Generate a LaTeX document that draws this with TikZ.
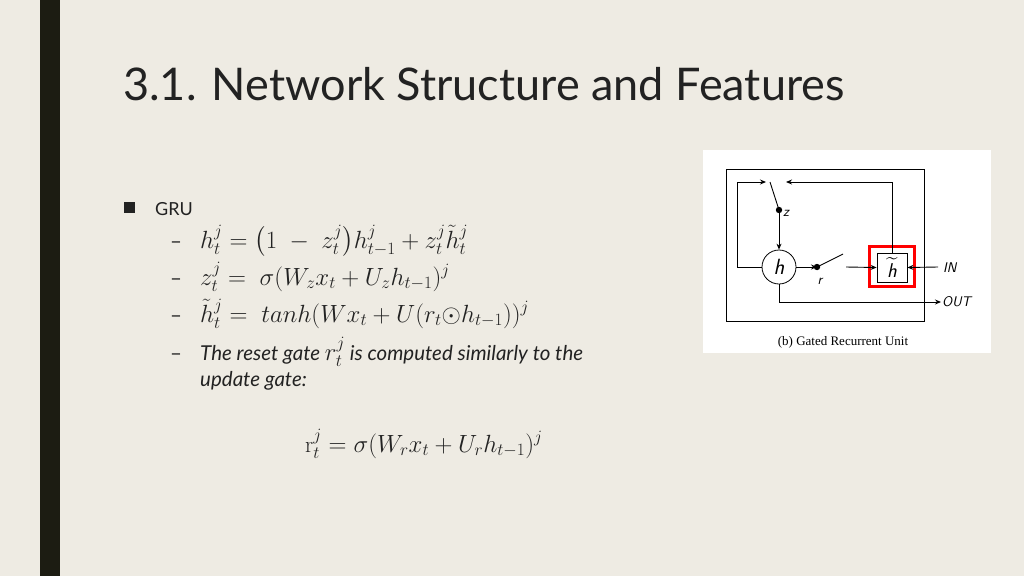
\documentclass[tikz,border=0pt]{standalone}
\usepackage{amsmath}
\usepackage{fontspec}
\setmainfont{Lato}
\newfontfamily\capfont{Liberation Serif}
\newfontfamily\lmr{Latin Modern Roman}
\usetikzlibrary{arrows.meta}
\definecolor{bg}{HTML}{EEEBE3}
\definecolor{bar}{HTML}{1C1C12}
\definecolor{txt}{HTML}{222222}
\begin{document}
\begin{tikzpicture}[x=1pt,y=-1pt,
  wire/.style={line width=0.9pt,black},
  arr/.style={wire,-{Stealth[length=6pt,width=5pt]}},
  eq/.style={anchor=base west,inner sep=0pt,font=\fontsize{23}{25}\selectfont,text=txt},
  tx/.style={anchor=base west,inner sep=0pt,font=\fontsize{20.5}{22}\selectfont,text=txt},
  lbl/.style={inner sep=0pt,font=\fontsize{14}{16}\selectfont\sffamily\itshape}]
\useasboundingbox (0,0) rectangle (1024,576);
\fill[bg] (0,0) rectangle (1024,576);
\fill[bar] (40,0) rectangle (60,576);
\node[anchor=base west,inner sep=0pt,font=\fontsize{45}{50}\selectfont,text=txt] (title) at (123,100) {3.1. Network Structure and Features};
\fill[txt] (124,202) rectangle (135,213);
\node[tx,font=\fontsize{18}{20}\selectfont] (gru) at (155,215) {GRU};
\foreach \yy/\nm in {248/d1,285/d2,322/d3,360/d4}{\node[tx] (\nm) at (170,\yy) {--};}
\node[eq] (e1) at (200,248) {$h_t^j=\bigl(1\;-\;z_t^j\bigr)h_{t-1}^j+z_t^j\tilde h_t^j$};
\node[eq] (e2) at (200,285) {$z_t^j=\;\sigma(W_zx_t+U_zh_{t-1})^j$};
\node[eq] (e3) at (200,322) {$\tilde h_t^j=\;tanh(Wx_t+U(r_t{\odot}h_{t-1}))^j$};
\node[tx,font=\fontsize{20.5}{22}\selectfont\itshape] (e4) at (200,360) {The reset gate {\fontsize{23}{24}\selectfont$r_t^j$} is computed similarly to the};
\node[tx,font=\fontsize{20.5}{22}\selectfont\itshape] (e5) at (200,386) {update gate:};
\node[eq] (e6) at (305,452) {$\text{\lmr r}_t^j=\sigma(W_rx_t+U_rh_{t-1})^j$};
% figure
\fill[white] (703,150) rectangle (991,353);
\draw[line width=0.8pt] (726,169) rectangle (924,321);
\node[circle,draw,line width=0.8pt,minimum size=34pt,inner sep=0pt,font=\fontsize{22}{24}\selectfont\sffamily\itshape] (h) at (779,267) {h};
\node[draw=red,line width=3pt,minimum width=45pt,minimum height=40pt,inner sep=0pt] (red) at (892,266.5) {};
\node[draw,fill=white,line width=0.8pt,minimum width=30pt,minimum height=29pt,inner sep=0pt,font=\fontsize{20}{22}\selectfont\sffamily\itshape] (ht) at (892,267.5) {$\widetilde{\text{\sffamily\itshape h}}$};
\fill (779,210) circle (3.2pt) coordinate (zd);
\fill (817,267) circle (3.2pt) coordinate (rd);
\node[lbl,anchor=west] (zl) at (783,213) {z};
\node[lbl] (rl) at (820,281) {r};
\coordinate (tl) at (737,182);
\coordinate (ta) at (766,182);
\coordinate (sw) at (770,182);
\draw[wire] (h.west) -- (737,267) -- (tl);
\draw[arr] (tl) -- (ta);
\draw[wire] (sw) -- (zd);
\draw[arr] (zd) -- (h.north);
\draw[arr] (h.east) -- (rd);
\draw[wire] (rd) -- (843,254);
\draw[arr] (846,267) -- (ht.west);
\draw[arr] (ht.north) -- (892,182) -- (786,182);
\coordinate (in) at (938,267);
\draw[arr] (in) -- (ht.east);
\node[lbl,anchor=west] (inl) at (943,268) {IN};
\coordinate (out) at (941,302);
\draw[arr] (h.south) -- (779,302) -- (out);
\node[lbl,anchor=west] (outl) at (942,302) {OUT};
\node[inner sep=0pt,font=\fontsize{13}{15}\selectfont\capfont] (cap) at (843,342) {(b) Gated Recurrent Unit};
\end{tikzpicture}
\end{document}
